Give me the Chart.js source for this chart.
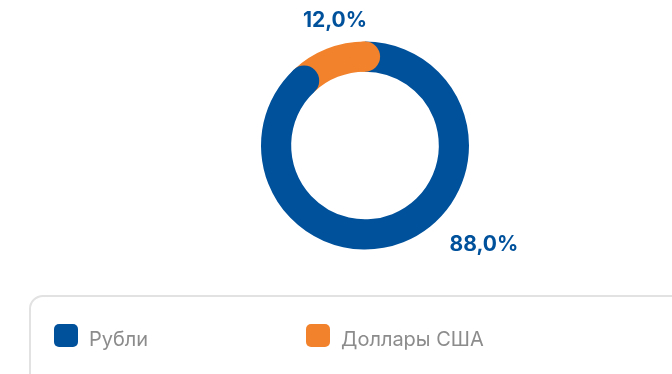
<!DOCTYPE html>
<html>
<head>
<meta charset="utf-8">
<script src="https://cdn.jsdelivr.net/npm/chart.js@4/dist/chart.umd.min.js"></script>
<style>
  html, body { margin: 0; padding: 0; background: #fff; }
  #wrap { width: 672px; height: 374px; position: relative; }
</style>
</head>
<body>
<div id="wrap"><canvas id="myChart"></canvas></div>
<script>
// currency split of the portfolio
const labels = ["Рубли", "Доллары США"];
const shares = [88.0, 12.0];
const colors = ["#00519c", "#f2822c"];

// round end caps: each slice ends with a half disc pushed into the next one
const roundCaps = {
  id: "roundCaps",
  afterDatasetsDraw(chart) {
    const ctx = chart.ctx;
    chart.getDatasetMeta(0).data.forEach((arc, i) => {
      const r = (arc.innerRadius + arc.outerRadius) / 2;
      const w = (arc.outerRadius - arc.innerRadius) / 2;
      const a = arc.endAngle;
      ctx.save();
      ctx.beginPath();
      ctx.arc(arc.x + r * Math.cos(a), arc.y + r * Math.sin(a), w, 0, Math.PI * 2);
      ctx.fillStyle = colors[i];
      ctx.fill();
      ctx.restore();
    });
  }
};

// percentage labels around the ring
const valueLabels = {
  id: "valueLabels",
  afterDraw(chart, args, opts) {
    const ctx = chart.ctx;
    const meta = chart.getDatasetMeta(0);
    meta.data.forEach((arc, i) => {
      const ang = opts.angles[i] * Math.PI / 180;
      const x = arc.x + opts.dist[i] * Math.sin(ang);
      const y = arc.y - opts.dist[i] * Math.cos(ang);
      ctx.save();
      ctx.font = "bold 21px Inter";
      ctx.fillStyle = "#00519c";
      ctx.textAlign = "center";
      ctx.textBaseline = "middle";
      ctx.fillText(shares[i].toFixed(1).replace(".", ",") + "%", x, y);
      ctx.restore();
    });
  }
};

// legend panel below the ring
const legendBox = {
  id: "legendBox",
  afterDraw(chart) {
    const ctx = chart.ctx;
    ctx.save();
    ctx.strokeStyle = "#e2e2e2";
    ctx.lineWidth = 2;
    ctx.beginPath();
    ctx.roundRect(30, 296, 680, 120, 13);
    ctx.stroke();
    const itemX = [54, 306];
    labels.forEach((l, i) => {
      ctx.fillStyle = colors[i];
      ctx.beginPath();
      ctx.roundRect(itemX[i], 324, 24, 23, 5);
      ctx.fill();
      ctx.fillStyle = "#8c8c8c";
      ctx.font = "20px Inter";
      ctx.textBaseline = "alphabetic";
      ctx.fillText(l, itemX[i] + 35, 346);
    });
    ctx.restore();
  }
};

const ctx = document.getElementById("myChart").getContext("2d");
const myChart = new Chart(ctx, {
  type: "doughnut",
  data: {
    labels: labels,
    datasets: [{
      data: shares,
      backgroundColor: colors,
      borderWidth: 0,
      hoverBorderWidth: 0,
      hoverOffset: 0
    }]
  },
  options: {
    responsive: true,
    maintainAspectRatio: false,
    animation: false,
    cutout: "71%",
    layout: { padding: { top: 41.5, bottom: 124.5, left: 58, right: 0 } },
    plugins: {
      legend: { display: false },
      tooltip: { enabled: false },
      valueLabels: { angles: [129.9, -13.5], dist: [155, 128.5] }
    }
  },
  plugins: [roundCaps, valueLabels, legendBox]
});
</script>
</body>
</html>
